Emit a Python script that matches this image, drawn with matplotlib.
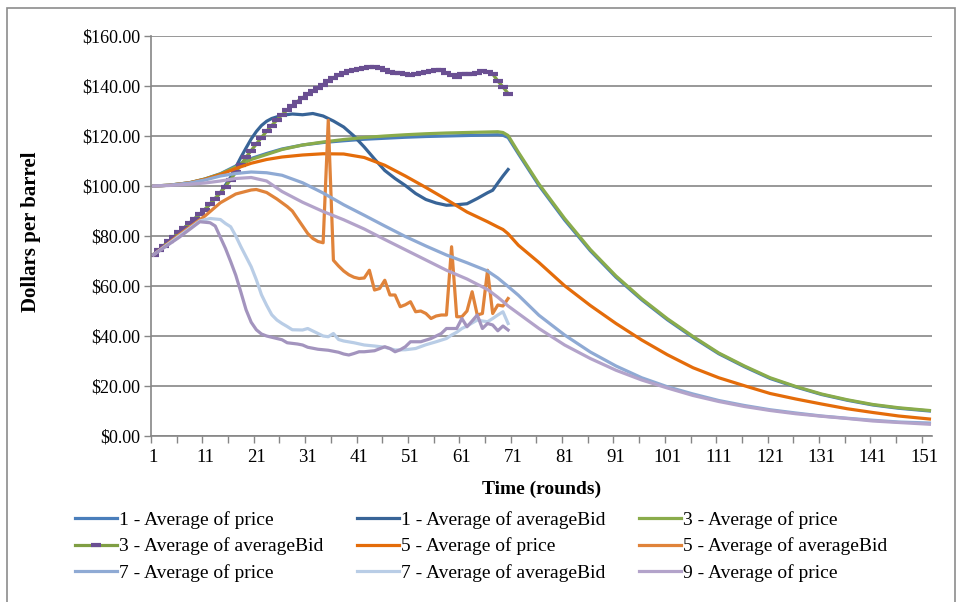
import matplotlib
matplotlib.use("Agg")
import matplotlib.pyplot as plt
from matplotlib.patches import Rectangle
from matplotlib.ticker import FixedLocator, FuncFormatter

plt.rcParams['font.family'] = ['Liberation Serif', 'DejaVu Serif']

rounds_price = [1, 4, 8, 11, 14, 17, 20, 23, 26, 30, 34, 38, 42, 46, 50, 54, 58, 62, 66, 68,
                69, 70, 72, 76, 81, 86, 91, 96, 101, 106, 111, 116, 121, 126, 131, 136, 141, 146, 152]

price_1 = [100.0, 100.3, 101.3, 102.8, 104.9, 108.0, 111.0, 113.0, 114.8, 116.4,
           117.4, 118.1, 118.7, 119.1, 119.5, 119.8, 120.0, 120.2, 120.4, 120.5,
           120.3, 119.4, 112.9, 100.2, 86.4, 74.1, 63.5, 54.5, 46.5, 39.4,
           32.9, 27.7, 23.0, 19.6, 16.6, 14.3, 12.4, 11.1, 10.0]
price_3 = [100.0, 100.3, 101.3, 102.8, 104.8, 107.6, 110.6, 112.6, 114.6, 116.4,
           117.6, 118.6, 119.4, 120.0, 120.5, 120.9, 121.2, 121.4, 121.6, 121.7,
           121.4, 120.2, 113.5, 100.8, 87.0, 74.6, 64.0, 54.9, 46.9, 39.8,
           33.2, 28.0, 23.3, 19.8, 16.8, 14.5, 12.6, 11.3, 10.2]
price_5 = [100.0, 100.3, 101.3, 102.7, 104.6, 107.0, 109.1, 110.6, 111.6, 112.4,
           112.9, 112.8, 111.4, 108.3, 104.0, 99.4, 94.6, 89.6, 85.7, 83.6,
           82.6, 80.9, 76.3, 69.4, 60.1, 52.2, 45.0, 38.4, 32.5, 27.3,
           23.3, 20.1, 17.0, 14.8, 12.8, 10.9, 9.4, 8.0, 6.8]
price_7 = [100.0, 100.3, 101.2, 102.4, 104.0, 105.0, 105.6, 105.3, 104.3, 101.3,
           97.2, 92.5, 88.3, 84.0, 79.8, 76.0, 72.4, 69.3, 66.0, 63.2,
           61.5, 59.8, 56.3, 48.3, 40.4, 33.6, 28.0, 23.3, 19.7, 16.8,
           14.2, 12.2, 10.5, 9.2, 8.0, 7.1, 6.3, 5.6, 5.2]
price_9 = [100.0, 100.2, 100.7, 101.2, 102.0, 103.0, 103.4, 102.0, 97.8, 93.5,
           89.8, 86.5, 82.8, 78.6, 74.5, 70.4, 66.3, 62.8, 58.6, 55.5,
           53.8, 52.0, 49.0, 43.0, 36.4, 31.0, 26.3, 22.4, 19.2, 16.2,
           13.8, 11.8, 10.2, 8.9, 7.9, 7.0, 6.0, 5.4, 4.7]

# average bids (rounds 1-70)
rounds_bid1 = [1, 6, 11, 14, 16, 17, 18, 19, 20, 21, 22, 23, 24, 26, 28, 30, 32, 34, 36, 38,
               40, 42, 44, 46, 48, 50, 52, 54, 56, 58, 60, 62, 64, 66, 67, 68, 69, 70]
bid_1 = [72.5, 81.5, 90.6, 97.3, 103.5, 107.5, 111.5, 115.2, 118.8, 121.8,
         124.2, 125.9, 127.0, 128.3, 128.8, 128.5, 129.0, 128.0, 126.0, 123.6,
         120.0, 115.6, 110.8, 106.2, 103.0, 100.2, 97.0, 94.6, 93.2, 92.3,
         92.5, 92.9, 95.0, 97.3, 98.3, 101.2, 104.0, 106.6]

rounds_bid3 = list(range(1, 71))
bid_3 = [72.5, 74.3, 76.1, 77.9, 79.7, 81.5, 83.3, 85.1, 86.9, 88.7,
         90.6, 92.8, 95.0, 97.3, 99.8, 102.6, 105.5, 108.5, 111.5, 114.2,
         116.8, 119.4, 121.9, 124.2, 126.4, 128.5, 130.4, 132.2, 133.8, 135.3,
         136.7, 138.0, 139.3, 140.6, 142.0, 143.3, 144.3, 145.2, 145.9, 146.5,
         146.9, 147.3, 147.6, 147.6, 147.2, 146.4, 145.7, 145.4, 145.2, 144.7,
         144.3, 144.8, 145.3, 145.7, 146.1, 146.4, 146.3, 145.2, 144.4, 143.7,
         144.8, 145.0, 144.7, 145.3, 146.0, 145.6, 144.8, 142.0, 139.6, 137.0]

rounds_bid5 = [1, 6, 11, 14, 17, 20, 21, 23, 25, 27] + list(range(28, 71))
bid_5 = [72.5, 80.5, 88.0, 93.3, 96.8, 98.4, 98.6, 97.4, 94.8, 91.8,
         90.0, 87.0, 84.0, 81.0, 79.0, 77.8, 77.3, 126.3, 70.3, 68.0,
         66.0, 64.5, 63.5, 63.0, 63.2, 66.3, 58.4, 59.0, 62.3, 56.4,
         56.4, 51.7, 52.5, 53.7, 49.7, 50.0, 49.0, 47.0, 48.0, 48.4,
         48.4, 75.7, 47.7, 47.7, 50.0, 57.7, 48.4, 49.0, 66.3, 49.0,
         52.4, 52.0, 55.0]

rounds_bid7 = [1, 6, 10, 12, 14, 15, 16, 17, 18, 19, 20, 21, 22, 23, 24, 25, 26, 27, 28, 30,
               31, 32, 33, 34, 35, 36, 37, 38, 40, 42, 44, 46, 48, 50, 52, 54, 56, 58, 59, 60,
               61, 62, 64, 65, 66, 67, 68, 69, 70]
bid_7 = [72.5, 80.0, 86.0, 87.0, 86.6, 85.0, 83.7, 80.0, 75.7, 71.7,
         67.7, 62.5, 56.5, 52.3, 48.5, 46.4, 45.0, 43.8, 42.5, 42.4,
         43.0, 42.0, 41.0, 40.0, 39.7, 41.0, 38.6, 38.0, 37.3, 36.4,
         36.0, 35.5, 34.4, 34.5, 35.0, 36.5, 37.7, 39.0, 40.4, 41.5,
         43.0, 44.0, 46.4, 46.0, 45.7, 47.0, 48.4, 49.7, 45.0]

rounds_bid9 = [1, 6, 10, 12, 13, 14, 15, 16, 17, 18, 19, 20, 21, 22, 23, 25, 26, 27, 29, 30,
               31, 33, 35, 37, 38, 39, 40, 41, 42, 44, 46, 47, 48, 49, 50, 51, 53, 55, 57, 58,
               60, 61, 62, 63, 64, 65, 66, 67, 68, 69, 70]
bid_9 = [72.5, 79.5, 85.7, 85.3, 84.0, 79.5, 75.0, 69.8, 64.3, 57.5,
         50.5, 45.5, 42.5, 40.8, 40.0, 39.0, 38.5, 37.3, 36.8, 36.4,
         35.5, 34.7, 34.3, 33.5, 32.8, 32.4, 33.0, 33.7, 33.7, 34.1,
         35.7, 35.0, 33.7, 34.5, 35.7, 37.7, 37.7, 39.0, 41.0, 43.0,
         43.0, 47.0, 43.7, 46.0, 48.4, 43.0, 45.0, 44.4, 42.1, 44.0,
         42.4]

W, H = 959, 602
fig = plt.figure(figsize=(W / 100, H / 100), dpi=100)
ax = fig.add_axes([151 / W, 1 - 436 / H, (932 - 151) / W, 400 / H])

lw = 2.3
h = []
h += ax.plot(rounds_price, price_1, color='#4A7EBB', lw=lw, label='1 - Average of price')
h += ax.plot(rounds_bid1, bid_1, color='#386497', lw=lw, label='1 - Average of averageBid')
h += ax.plot(rounds_price, price_3, color='#8AAC4B', lw=lw, label='3 - Average of price')
h += ax.plot(rounds_bid3, bid_3, color='#7F9E43', lw=lw, marker='_', ms=7, mew=3,
             mec='#6A4F92', label='3 - Average of averageBid')
h += ax.plot(rounds_price, price_5, color='#E46C0A', lw=lw, label='5 - Average of price')
h += ax.plot(rounds_bid5, bid_5, color='#E0833A', lw=lw, label='5 - Average of averageBid')
h += ax.plot(rounds_price, price_7, color='#8FAAD4', lw=lw, label='7 - Average of price')
h += ax.plot(rounds_bid7, bid_7, color='#B9CDE6', lw=lw, label='7 - Average of averageBid')
h += ax.plot(rounds_price, price_9, color='#B3A3CA', lw=lw, label='9 - Average of price')
ax.plot(rounds_bid9, bid_9, color='#A394BE', lw=lw)

# 轴
ax.set_xlim(0.5, 152.5)
ax.set_ylim(0, 160)
ax.set_yticks(range(0, 161, 20))
ax.yaxis.set_major_formatter(FuncFormatter(lambda v, p: '${:,.2f}'.format(v)))
ax.xaxis.set_major_locator(FixedLocator(list(range(1, 152, 10))))
ax.xaxis.set_minor_locator(FixedLocator([0.5 + 5 * k for k in range(31)]))
ax.tick_params(axis='x', which='major', length=0, pad=9, labelsize=13.5)
ax.tick_params(axis='x', which='minor', length=5, color='#868686', width=1)
ax.tick_params(axis='y', length=5, color='#868686', width=1, pad=3, labelsize=13)
ax.grid(axis='y', color='#868686', lw=1.2)
ax.set_axisbelow(True)
for s in ['top', 'right']:
    ax.spines[s].set_visible(False)
for s in ['left', 'bottom']:
    ax.spines[s].set_color('#868686')
    ax.spines[s].set_linewidth(1.2)

ax.set_ylabel('Dollars per barrel', fontsize=15, fontweight='bold')
ax.set_xlabel('Time (rounds)', fontsize=14, fontweight='bold')
ax.yaxis.set_label_coords((41 - 151) / 781, 0.51)
ax.xaxis.set_label_coords(0.5, (436 - 481) / 400)

# legend row by row
order = [0, 3, 6, 1, 4, 7, 2, 5, 8]
fig.legend([h[i] for i in order], [h[i].get_label() for i in order],
           loc='upper left', bbox_to_anchor=(75 / W, 1 - 511 / H), ncol=3, frameon=False,
           fontsize=14, handlelength=2.15, handletextpad=0.1, columnspacing=1.75,
           labelspacing=0.44, numpoints=1, borderaxespad=0, borderpad=0)

fig.patches.append(Rectangle((7 / W, -0.02), (955 - 7) / W, (H - 8) / H + 0.02,
                             transform=fig.transFigure, fill=False,
                             edgecolor='#8C8C8C', lw=1.2))

fig.savefig('out.png', dpi=100)
